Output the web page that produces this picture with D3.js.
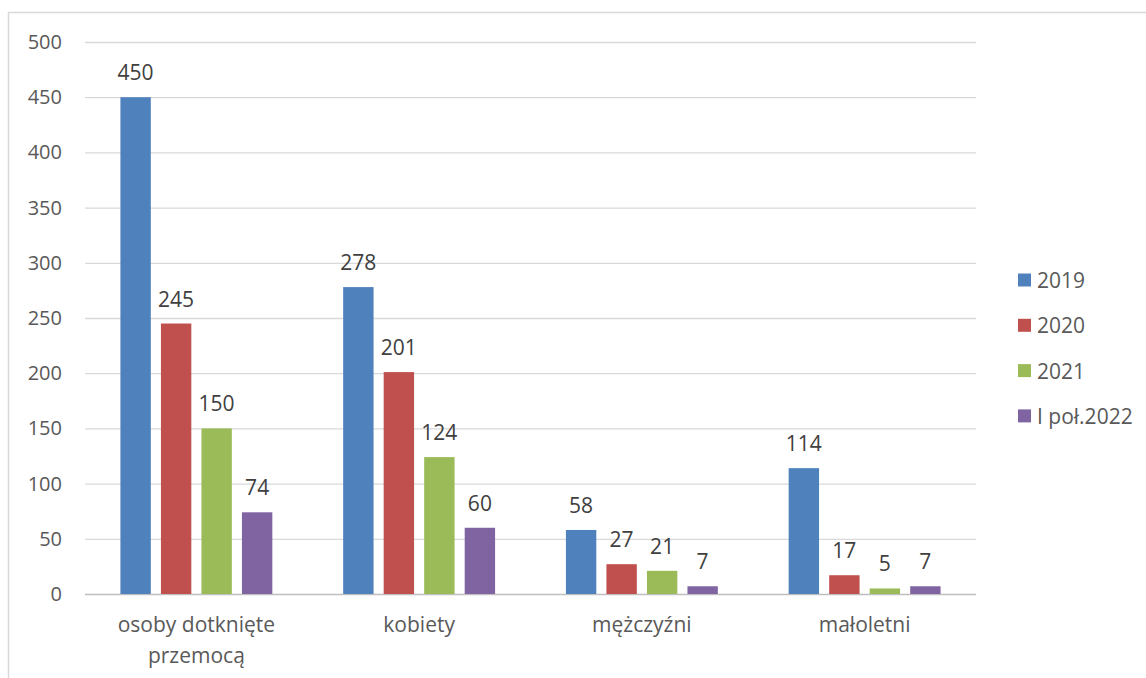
<!DOCTYPE html>
<html>
<head>
<meta charset="utf-8">
<script src="https://cdn.jsdelivr.net/npm/d3@7"></script>
<style>
  body { margin: 0; background: #fff; }
  svg { display: block; font-family: "Open Sans", "Noto Sans", "DejaVu Sans", sans-serif; }
</style>
</head>
<body>
<svg id="chart"></svg>
<script>
// chart data
const categories = [["osoby dotknięte", "przemocą"], ["kobiety"], ["mężczyźni"], ["małoletni"]];
const seriesNames = ["2019", "2020", "2021", "I poł.2022"];
const values2019 = [450, 278, 58, 114];
const values2020 = [245, 201, 27, 17];
const values2021 = [150, 124, 21, 5];
const valuesH2022 = [74, 60, 7, 7];
const yTicks = [0, 50, 100, 150, 200, 250, 300, 350, 400, 450, 500];
const colors = ["#4F81BD", "#C0504D", "#9BBB59", "#8064A2"];

const allValues = [values2019, values2020, values2021, valuesH2022];

// svg size
const width = 1146;
const height = 678;

// plot area
const padLeft = 85, padRight = 976, padTop = 42, padBottom = 594;

const svg = d3.select('#chart').attr('width', width).attr('height', height);

// outer frame (top and left edges visible)
svg.append('path')
  .attr('d', `M8.5,${height} L8.5,12.5 L${width},12.5`)
  .attr('fill', 'none')
  .attr('stroke', '#d9d9d9')
  .attr('stroke-width', 1.5);

let yScale = d3.scaleLinear().domain([0, 500]).range([padBottom, padTop]);
let x0 = d3.scaleBand().domain(d3.range(categories.length)).range([padLeft, padRight])
  .paddingInner(0.318).paddingOuter(0.159);
let x1 = d3.scaleBand().domain(d3.range(seriesNames.length)).range([0, x0.bandwidth()])
  .paddingInner(0.25).paddingOuter(0);

// gridlines
svg.append('g').selectAll('line')
  .data(yTicks)
  .join('line')
  .attr('x1', padLeft).attr('x2', padRight)
  .attr('y1', d => yScale(d) + 0.5).attr('y2', d => yScale(d) + 0.5)
  .attr('stroke', d => d === 0 ? '#bfbfbf' : '#d9d9d9')
  .attr('stroke-width', 1.3);

// y axis labels
let yAxis = d3.axisLeft(yScale).tickValues(yTicks).tickSize(0).tickPadding(0);
let yg = svg.append('g').attr('transform', 'translate(62,0)').call(yAxis);
yg.select('.domain').remove();
yg.selectAll('text')
  .style('font-size', '20px')
  .style('font-family', '"Open Sans", "Noto Sans", sans-serif')
  .attr('fill', '#595959');

// bars
const groups = svg.append('g').selectAll('g')
  .data(categories.map((c, i) => i))
  .join('g')
  .attr('transform', i => `translate(${x0(i)},0)`);

groups.selectAll('rect')
  .data(i => allValues.map((vals, s) => ({ s: s, v: vals[i] })))
  .join('rect')
  .attr('x', d => x1(d.s))
  .attr('width', x1.bandwidth())
  .attr('y', d => yScale(d.v))
  .attr('height', d => yScale(0) - yScale(d.v))
  .attr('fill', d => colors[d.s]);

// value labels
groups.selectAll('text')
  .data(i => allValues.map((vals, s) => ({ s: s, v: vals[i] })))
  .join('text')
  .attr('x', d => x1(d.s) + x1.bandwidth() / 2)
  .attr('y', d => yScale(d.v) - 17)
  .attr('text-anchor', 'middle')
  .style('font-size', '21px')
  .attr('fill', '#404040')
  .text(d => d.v);

// category labels
svg.append('g').selectAll('text')
  .data(categories)
  .join('text')
  .attr('text-anchor', 'middle')
  .attr('x', (d, i) => x0(i) + x0.bandwidth() / 2)
  .attr('y', 632)
  .style('font-size', '21px')
  .attr('fill', '#595959')
  .selectAll('tspan')
  .data(d => d)
  .join('tspan')
  .attr('x', function () { return d3.select(this.parentNode).attr('x'); })
  .attr('dy', (d, i) => i === 0 ? 0 : 31)
  .text(d => d);

// legend
const legend = svg.append('g').selectAll('g')
  .data(seriesNames)
  .join('g')
  .attr('transform', (d, i) => `translate(1018,${280 + i * 45.3})`);

legend.append('rect')
  .attr('x', 0).attr('y', -6.5)
  .attr('width', 13).attr('height', 13)
  .attr('fill', (d, i) => colors[i]);

legend.append('text')
  .attr('x', 19).attr('y', 0)
  .attr('dominant-baseline', 'central')
  .style('font-size', '21px')
  .attr('fill', '#595959')
  .text(d => d);
</script>
</body>
</html>
